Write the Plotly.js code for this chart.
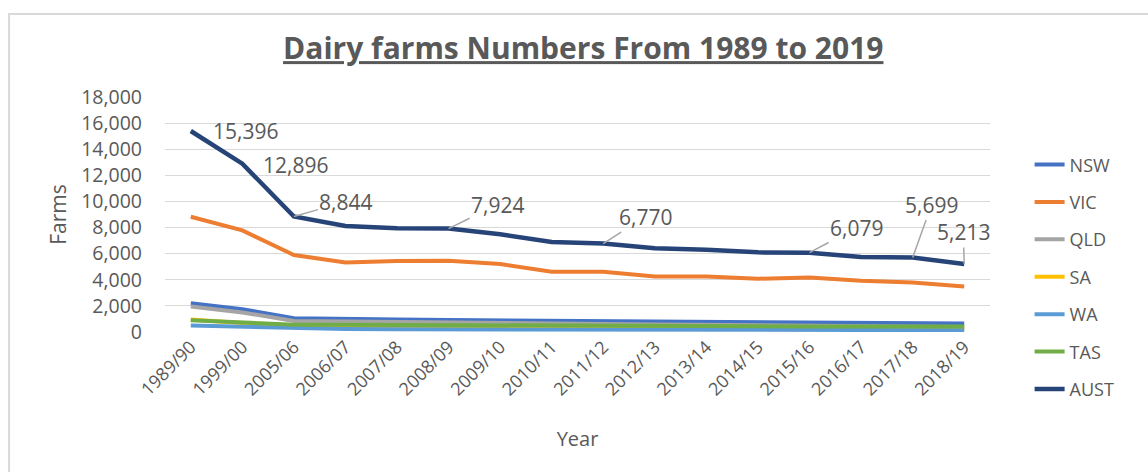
<!DOCTYPE html>
<html>
<head>
<meta charset="utf-8">
<script src="https://cdn.plot.ly/plotly-3.0.1.min.js"></script>
<style>
  html, body { margin: 0; padding: 0; background: #ffffff; }
  #chart { width: 1148px; height: 472px; }
</style>
</head>
<body>
<div id="chart"></div>
<script>
const years = ["1989/90","1999/00","2005/06","2006/07","2007/08","2008/09","2009/10","2010/11",
               "2011/12","2012/13","2013/14","2014/15","2015/16","2016/17","2017/18","2018/19"];

const nsw  = [2200, 1750, 1050, 980, 950, 920, 900, 850, 830, 800, 760, 740, 730, 700, 680, 650];
const vic  = [8830, 7780, 5900, 5330, 5430, 5450, 5200, 4620, 4620, 4250, 4250, 4080, 4180, 3920, 3800, 3480];
const qld  = [1950, 1500, 850, 800, 760, 720, 700, 650, 620, 580, 540, 520, 500, 450, 420, 390];
const sa   = [950, 700, 420, 400, 380, 360, 340, 320, 300, 290, 270, 260, 250, 240, 230, 220];
const wa   = [500, 400, 260, 230, 210, 200, 190, 180, 170, 160, 160, 155, 150, 150, 145, 140];
const tas  = [900, 750, 560, 550, 530, 500, 490, 480, 470, 460, 450, 440, 430, 430, 420, 420];
const aust = [15396, 12896, 8844, 8120, 7950, 7924, 7480, 6900, 6770, 6420, 6300, 6100, 6079, 5750, 5699, 5213];

const seriesNames  = ["NSW", "VIC", "QLD", "SA", "WA", "TAS", "AUST"];
const seriesValues = [nsw, vic, qld, sa, wa, tas, aust];
const seriesColors = ["#4472C4", "#ED7D31", "#A5A5A5", "#FFC000", "#5B9BD5", "#70AD47", "#264478"];

// labelled points on AUST
const labelYears  = ["1989/90", "1999/00", "2005/06", "2008/09", "2011/12", "2015/16", "2017/18", "2018/19"];
const labelValues = [15396, 12896, 8844, 7924, 6770, 6079, 5699, 5213];
const labelAx     = [55, 53, 52, 49, 42, 47, 19, -1];
const labelAy     = [0, 1, -15, -24, -27, -25, -53, -32];
const labelArrow  = [false, false, true, true, true, true, true, true];

const FONT = "'Open Sans', 'Noto Sans', sans-serif";
const GREY = "#595959";

const traces = seriesNames.map((n, i) => ({
  type: "scatter",
  mode: "lines",
  name: n,
  x: years,
  y: seriesValues[i],
  legendgroup: n,
  line: { color: seriesColors[i], width: i === 6 ? 4.5 : 4 },
  hoverinfo: "skip"
}));

const annotations = labelYears.map((yr, i) => ({
  x: yr, y: labelValues[i], xref: "x", yref: "y",
  text: labelValues[i].toLocaleString("en-US"),
  showarrow: true,
  arrowhead: 0, arrowwidth: 1.5, arrowcolor: labelArrow[i] ? "#a6a6a6" : "rgba(0,0,0,0)",
  standoff: 0,
  ax: labelAx[i], ay: labelAy[i],
  font: { family: FONT, size: 21, color: GREY }
}));

const layout = {
  width: 1148, height: 472,
  margin: { l: 165, r: 158, t: 97, b: 140 },
  paper_bgcolor: "#ffffff", plot_bgcolor: "#ffffff",
  font: { family: FONT, color: GREY },
  title: {
    text: "<b><u>Dairy farms Numbers From 1989 to 2019</u></b>",
    font: { family: FONT, size: 30, color: GREY },
    x: 0.507, xanchor: "center", xref: "paper",
    y: 0.897, yanchor: "middle", yref: "container"
  },
  xaxis: {
    type: "category",
    range: [-0.5, 15.5],
    tickangle: -45,
    showgrid: false, showline: false, zeroline: false,
    ticks: "",
    tickfont: { family: FONT, size: 18, color: GREY },
    title: { text: "Year", standoff: 32, font: { family: FONT, size: 20, color: GREY } }
  },
  yaxis: {
    range: [0, 18000],
    dtick: 2000, tick0: 0,
    tickformat: ",d",
    showgrid: true, gridcolor: "#d9d9d9", gridwidth: 1,
    zeroline: false, showline: false,
    ticks: "", ticklabelstandoff: 22,
    tickfont: { family: FONT, size: 19.5, color: GREY },
    title: { text: "Farms", standoff: 8, font: { family: FONT, size: 21, color: GREY } }
  },
  showlegend: true,
  legend: {
    x: 1.048, xanchor: "left", y: 0.79, yanchor: "top",
    font: { family: FONT, size: 18, color: GREY },
    tracegroupgap: 11,
    traceorder: "grouped",
    maxheight: 420,
    bgcolor: "rgba(0,0,0,0)"
  },
  annotations: annotations,
  shapes: [{
    type: "rect", xref: "paper", yref: "paper",
    x0: -0.189, x1: 1.25, y0: -0.7, y1: 1.353,
    line: { color: "#d9d9d9", width: 2 }, fillcolor: "rgba(0,0,0,0)",
    layer: "below"
  }]
};

Plotly.newPlot("chart", traces, layout, { staticPlot: true, displayModeBar: false });
</script>
</body>
</html>
